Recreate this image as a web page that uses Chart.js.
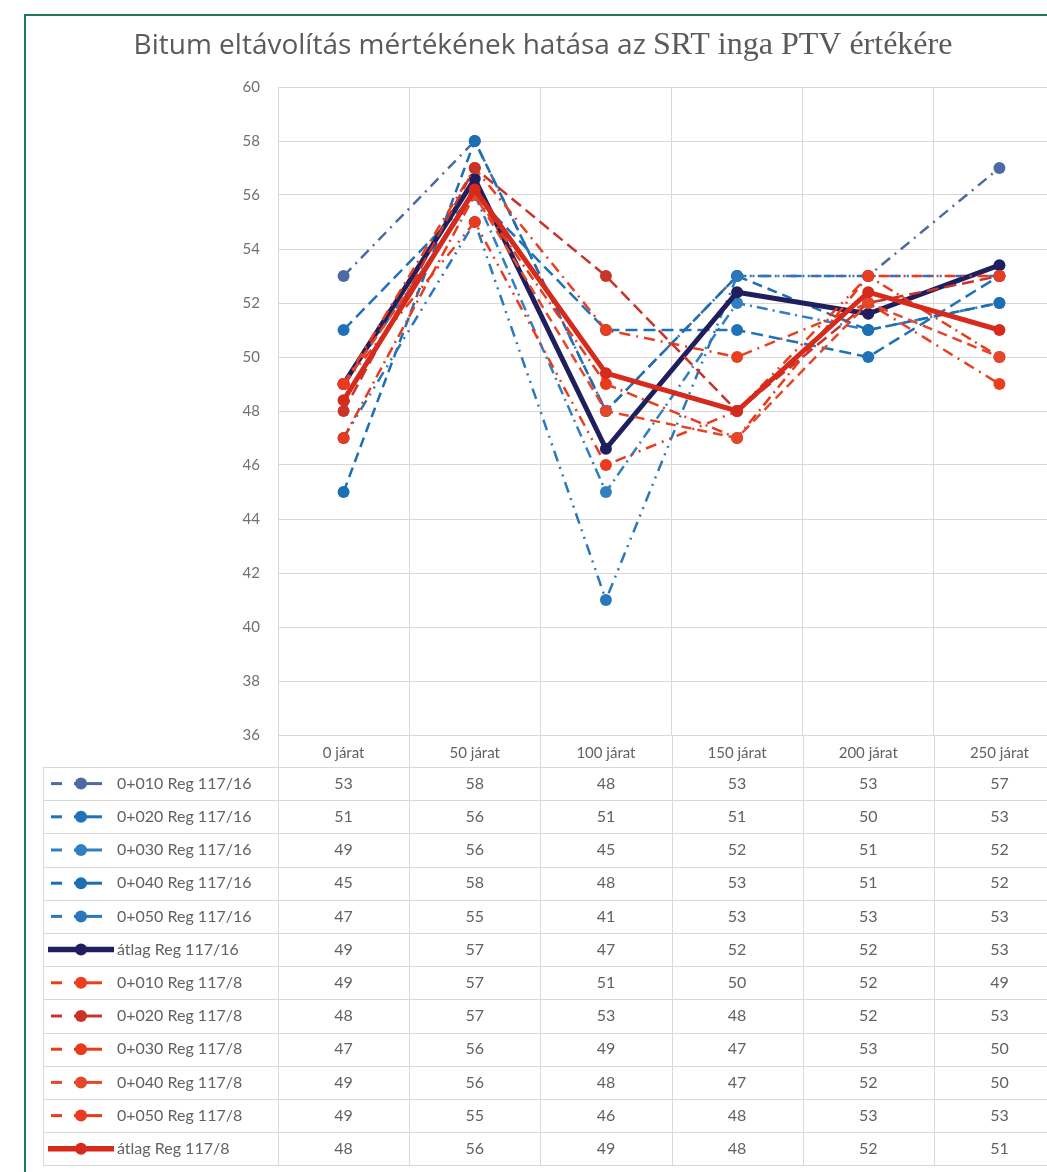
<!DOCTYPE html>
<html>
<head>
<meta charset="utf-8">
<script src="https://cdn.jsdelivr.net/npm/chart.js@4.4.1/dist/chart.umd.min.js"></script>
<style>
  html, body { margin: 0; padding: 0; background: #fff; overflow: hidden; }
  #wrap { position: relative; width: 1047px; height: 1172px; overflow: hidden; }
  #box { position: absolute; left: 0; top: 0; width: 1090px; height: 1172px; }
  #frame { position: absolute; left: 24px; top: 14px; width: 1100px; height: 1200px;
           border: 2px solid #1b7a5a; box-sizing: border-box; pointer-events: none; }
</style>
</head>
<body>
<div id="wrap">
  <div id="box"><canvas id="chart"></canvas></div>
  <div id="frame"></div>
</div>
<script>
// categories
const categories = ['0 járat', '50 járat', '100 járat', '150 járat', '200 járat', '250 járat'];
const yTicks = { min: 36, max: 60, step: 2 };
const titleSans = 'Bitum eltávolítás mértékének hatása az ';
const titleSerif = 'SRT inga PTV értékére';

// Reg 117/16
const r16_010 = [53, 58, 48, 53, 53, 57];
const r16_020 = [51, 56, 51, 51, 50, 53];
const r16_030 = [49, 56, 45, 52, 51, 52];
const r16_040 = [45, 58, 48, 53, 51, 52];
const r16_050 = [47, 55, 41, 53, 53, 53];
const r16_avg = [49, 56.6, 46.6, 52.4, 51.6, 53.4];

// Reg 117/8
const r8_010 = [49, 57, 51, 50, 52, 49];
const r8_020 = [48, 57, 53, 48, 52, 53];
const r8_030 = [47, 56, 49, 47, 53, 50];
const r8_040 = [49, 56, 48, 47, 52, 50];
const r8_050 = [49, 55, 46, 48, 53, 53];
const r8_avg = [48.4, 56.2, 49.4, 48, 52.4, 51];

const series = [
  { name: '0+010 Reg 117/16', data: r16_010, color: '#4d6aa3', dash: [11, 6, 2, 6] },
  { name: '0+020 Reg 117/16', data: r16_020, color: '#1f72b8', dash: [12, 6] },
  { name: '0+030 Reg 117/16', data: r16_030, color: '#2f7fc1', dash: [11, 5, 2, 5] },
  { name: '0+040 Reg 117/16', data: r16_040, color: '#1a6fb5', dash: [10, 6] },
  { name: '0+050 Reg 117/16', data: r16_050, color: '#2a78bb', dash: [11, 6, 2, 6, 2, 6] },
  { name: 'átlag Reg 117/16', data: r16_avg, color: '#1f1f5e', avg: true },
  { name: '0+010 Reg 117/8', data: r8_010, color: '#e8401f', dash: [11, 6, 2, 6] },
  { name: '0+020 Reg 117/8', data: r8_020, color: '#c8342a', dash: [12, 6] },
  { name: '0+030 Reg 117/8', data: r8_030, color: '#e83b1c', dash: [11, 5, 2, 5] },
  { name: '0+040 Reg 117/8', data: r8_040, color: '#e4472a', dash: [10, 6] },
  { name: '0+050 Reg 117/8', data: r8_050, color: '#ea3a20', dash: [11, 6, 2, 6, 2, 6] },
  { name: 'átlag Reg 117/8', data: r8_avg, color: '#d62a1c', avg: true }
];

const textGray = '#626262';
const gridGray = '#d9d9d9';

// title in two fonts, as in the picture
const titlePlugin = {
  id: 'twoFontTitle',
  afterDraw(chart) {
    const ctx = chart.ctx;
    ctx.save();
    const sansFont = '28px "Open Sans"';
    const serifFont = '32px "Liberation Serif"';
    ctx.font = sansFont;
    const w1 = ctx.measureText(titleSans).width;
    ctx.font = serifFont;
    const w2 = ctx.measureText(titleSerif).width;
    const x0 = 543 - (w1 + w2) / 2;
    ctx.fillStyle = '#5a5a5a';
    ctx.textBaseline = 'alphabetic';
    ctx.textAlign = 'left';
    ctx.font = sansFont;
    ctx.fillText(titleSans, x0, 54);
    ctx.font = serifFont;
    ctx.fillText(titleSerif, x0 + w1, 54);
    ctx.restore();
  }
};

// data table under the plot, with legend keys
const tablePlugin = {
  id: 'dataTable',
  afterDraw(chart) {
    const ctx = chart.ctx, area = chart.chartArea, xs = chart.scales.x;
    const top = area.bottom + 32, rowH = 33.2, left = 43;
    const bottom = top + rowH * series.length;
    ctx.save();
    ctx.strokeStyle = gridGray;
    ctx.lineWidth = 1;
    const line = (x1, y1, x2, y2) => { ctx.beginPath(); ctx.moveTo(x1, y1); ctx.lineTo(x2, y2); ctx.stroke(); };
    for (let r = 0; r <= series.length; r++) {
      const y = Math.round(top + r * rowH) + 0.5;
      line(left, y, area.right, y);
    }
    line(left + 0.5, top, left + 0.5, bottom);
    const edges = [area.left];
    for (let i = 1; i < categories.length; i++) {
      edges.push((xs.getPixelForValue(i - 1) + xs.getPixelForValue(i)) / 2);
    }
    edges.push(area.right);
    edges.forEach(ex => line(Math.round(ex) + 0.5, area.bottom, Math.round(ex) + 0.5, bottom));

    ctx.font = '16px Lato';
    ctx.textBaseline = 'middle';
    series.forEach((s, r) => {
      const cy = top + r * rowH + rowH / 2;
      // legend key
      ctx.strokeStyle = s.color;
      ctx.fillStyle = s.color;
      if (s.avg) {
        ctx.lineWidth = 5.5;
        line(48, cy, 114, cy);
      } else {
        ctx.lineWidth = 3;
        line(51, cy, 62, cy);
        line(74, cy, 102, cy);
      }
      ctx.beginPath();
      ctx.arc(81, cy, 6, 0, Math.PI * 2);
      ctx.fill();
      // name
      ctx.fillStyle = textGray;
      ctx.textAlign = 'left';
      ctx.fillText(s.name, 117, cy);
      // values
      ctx.textAlign = 'center';
      s.data.forEach((v, i) => ctx.fillText(String(Math.round(v)), xs.getPixelForValue(i), cy));
    });
    ctx.restore();
  }
};

const datasets = series.map((s, i) => ({
  label: s.name,
  data: s.data,
  borderColor: s.color,
  backgroundColor: s.color,
  borderWidth: s.avg ? 5 : 2.5,
  borderDash: s.avg ? [] : s.dash,
  pointRadius: 6,
  pointBorderWidth: 0,
  pointBackgroundColor: s.color,
  tension: 0,
  order: series.length - i
}));

new Chart(document.getElementById('chart'), {
  type: 'line',
  data: { labels: categories, datasets: datasets },
  options: {
    responsive: true,
    maintainAspectRatio: false,
    animation: false,
    layout: { padding: { top: 87, right: 25, bottom: 0, left: 0 } },
    plugins: {
      legend: { display: false },
      title: { display: false },
      tooltip: { enabled: false }
    },
    scales: {
      x: {
        offset: true,
        grid: { offset: true, color: gridGray, drawTicks: false },
        border: { display: false },
        ticks: { color: textGray, font: { family: 'Lato', size: 15 }, padding: 9 },
        afterFit: s => { s.height = 437; }
      },
      y: {
        min: yTicks.min,
        max: yTicks.max,
        grid: { color: gridGray, drawTicks: false },
        border: { display: false },
        ticks: { stepSize: yTicks.step, color: '#707070', font: { family: 'Lato', size: 15 }, padding: 18 },
        afterFit: s => { s.width = 278; }
      }
    }
  },
  plugins: [titlePlugin, tablePlugin]
});
</script>
</body>
</html>
